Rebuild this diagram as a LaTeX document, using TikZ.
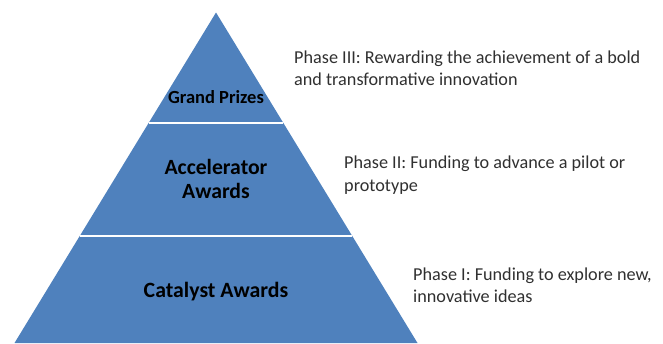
\documentclass[tikz,border=0pt]{standalone}
\usepackage{fontspec}
\setmainfont{Carlito}
\definecolor{pyrblue}{HTML}{4F81BD}
\definecolor{desctext}{HTML}{303030}
\begin{document}
\begin{tikzpicture}[x=1pt,y=-1pt,
  tierlabel/.style={font=\bfseries, text=black, align=center, inner sep=0pt},
  phasetext/.style={font=\fontsize{18.2}{22.5}\selectfont, text=desctext, align=left, anchor=west, inner sep=0pt},
  divider/.style={draw=white, line width=2pt}]
\useasboundingbox (0,0) rectangle (663,343);
% pyramid
\coordinate (apex) at (216,12.5);
\coordinate (bl) at (14.5,343);
\coordinate (br) at (417.5,343);
\fill[pyrblue] (apex) -- (br) -- (bl) -- cycle;
\coordinate (d1l) at (149,122.7);
\coordinate (d1r) at (283,122.7);
\coordinate (d2l) at (80,235.7);
\coordinate (d2r) at (352,235.7);
\draw[divider] (d1l) -- (d1r);
\draw[divider] (d2l) -- (d2r);
% tier labels
\node[tierlabel, font=\bfseries\fontsize{18.5}{22}\selectfont] (grand) at (216,97) {Grand Prizes};
\node[tierlabel, font=\bfseries\fontsize{21.7}{24}\selectfont] (accel) at (216,179) {Accelerator\\Awards};
\node[tierlabel, font=\bfseries\fontsize{21.8}{24}\selectfont] (catal) at (216,292) {Catalyst Awards};
% descriptions
\node[phasetext] (p3) at (294,68) {Phase III: Rewarding the achievement of a bold\\and transformative innovation};
\node[phasetext] (p2) at (344,175) {Phase II: Funding to advance a pilot or\\prototype};
\node[phasetext] (p1) at (413,285) {Phase I: Funding to explore new,\\innovative ideas};
\end{tikzpicture}
\end{document}
